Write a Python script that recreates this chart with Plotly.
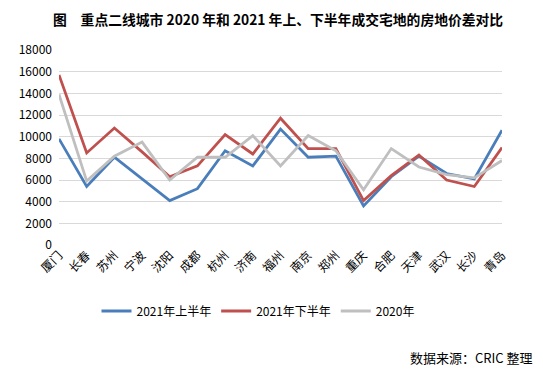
import plotly.graph_objects as go

cities = ["厦门", "长春", "苏州", "宁波", "沈阳", "成都", "杭州", "济南", "福州",
          "南京", "郑州", "重庆", "合肥", "天津", "武汉", "长沙", "青岛"]
h1_2021 = [9800, 5400, 8100, 6100, 4100, 5200, 8700, 7300, 10700,
           8100, 8200, 3600, 6300, 8200, 6600, 6100, 10600]
h2_2021 = [15700, 8500, 10800, 8600, 6300, 7300, 10200, 8400, 11700,
           8900, 8900, 4100, 6400, 8300, 6000, 5400, 9000]
y2020 = [13900, 5900, 8200, 9500, 6000, 8100, 8100, 10100, 7300,
         10100, 8700, 5100, 8900, 7200, 6500, 6200, 7800]
y_ticks = [0, 2000, 4000, 6000, 8000, 10000, 12000, 14000, 16000, 18000]
y_tick_text = [str(v) for v in y_ticks]

FONT = "Noto Sans CJK SC"
OFF = 8  # default page body margin of the written html

fig = go.Figure()
series = [("2021年上半年", h1_2021, "#4A7EBB"),
          ("2021年下半年", h2_2021, "#C0504D"),
          ("2020年", y2020, "#BFBFBF")]
for name, vals, col in series:
    fig.add_trace(go.Scatter(x=cities, y=vals, mode="lines", name=name,
                             line=dict(color=col, width=2.8)))

L, R, T, B = 59 - OFF, 41 + OFF, 50 - OFF, 130 + OFF
PW = 543 - L - R
PH = 375 - T - B

fig.update_layout(
    width=543, height=375,
    margin=dict(l=L, r=R, t=T, b=B, autoexpand=False),
    paper_bgcolor="white", plot_bgcolor="white",
    font=dict(family=FONT, size=12, color="black"),
    showlegend=True,
    legend=dict(orientation="h", x=(258 - OFF - L) / PW, xanchor="center",
                y=(375 - (311 - OFF)) / 375, yref="container", yanchor="middle",
                font=dict(size=12), itemwidth=30, tracegroupgap=0),
    xaxis=dict(type="category", tickangle=-45, showgrid=False, showline=False,
               ticks="", tickfont=dict(size=12), automargin=False),
    yaxis=dict(range=[0, 18000], tickvals=y_ticks, ticktext=y_tick_text,
               showgrid=True, gridcolor="#D9D9D9",
               gridwidth=1, zeroline=False, showline=False, ticks="",
               tickfont=dict(size=12), ticklabelstandoff=6, automargin=False),
)
# chart title as a paper annotation, kept fully inside the figure
fig.add_annotation(text="<b>图　重点二线城市 2020 年和 2021 年上、下半年成交宅地的房地价差对比</b>",
                   xref="paper", yref="paper",
                   x=(278 - OFF - L) / PW, xanchor="center",
                   y=1 + (T - (19 - OFF)) / PH, yanchor="middle",
                   showarrow=False, font=dict(family=FONT, size=13.8, color="black"))
fig.add_annotation(text="数据来源：CRIC 整理", xref="paper", yref="paper",
                   x=(535 - OFF - L) / PW, xanchor="right",
                   y=-((357 - OFF) - (375 - B)) / PH, yanchor="middle",
                   showarrow=False, font=dict(family=FONT, size=13, color="black"))

fig.write_html("out.html")
